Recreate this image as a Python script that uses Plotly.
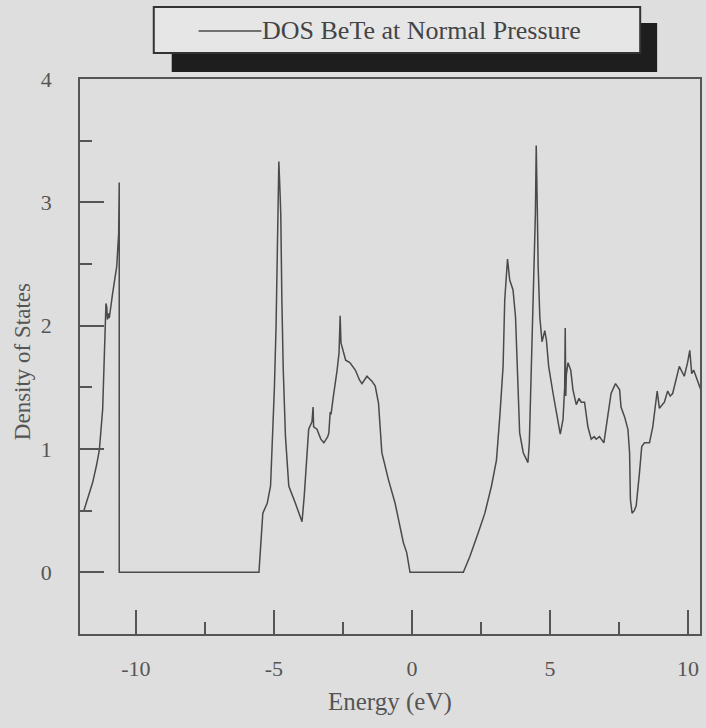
import plotly.graph_objects as go

# ---- data ----
energy = [-11.88, -11.70, -11.56, -11.42, -11.32, -11.20, -11.14, -11.10, -11.08, -11.05,
          -11.03, -10.98, -10.96, -10.84, -10.69, -10.62, -10.60, -10.60,
          -5.54, -5.40, -5.24, -5.12, -5.06, -4.98, -4.92, -4.87, -4.84, -4.82,
          -4.78, -4.75, -4.71, -4.66, -4.58, -4.46, -4.22, -3.98,
          -3.90, -3.83, -3.74, -3.62, -3.58, -3.56, -3.44, -3.30, -3.19, -3.05,
          -3.01, -2.96, -2.93, -2.85, -2.77, -2.71, -2.64, -2.60, -2.57, -2.50,
          -2.40, -2.25, -2.05, -1.90, -1.81, -1.63, -1.45, -1.33, -1.21, -1.09,
          -0.85, -0.61, -0.45, -0.31, -0.19, -0.07,
          1.86, 2.10, 2.40, 2.64, 2.88, 3.06, 3.18, 3.30, 3.36, 3.46,
          3.54, 3.66, 3.75, 3.84, 3.90, 4.03, 4.20, 4.25, 4.27, 4.33,
          4.42, 4.47, 4.50, 4.52, 4.54, 4.57, 4.63, 4.71, 4.81, 4.87,
          4.95, 5.11, 5.29, 5.37, 5.47, 5.53, 5.55, 5.57, 5.59, 5.65,
          5.75, 5.83, 5.95, 6.05, 6.13, 6.25, 6.37, 6.49, 6.60, 6.67,
          6.79, 6.95, 7.09, 7.21, 7.37, 7.52, 7.57, 7.70, 7.82, 7.88,
          7.91, 7.97, 8.05, 8.12, 8.24, 8.32, 8.42, 8.60, 8.72, 8.88,
          8.96, 9.14, 9.26, 9.35, 9.44, 9.56, 9.68, 9.86, 9.98, 10.06,
          10.13, 10.20, 10.34, 10.46]
dos = [0.50, 0.62, 0.73, 0.87, 0.99, 1.32, 1.67, 1.99, 2.18, 2.15,
       2.05, 2.10, 2.06, 2.26, 2.48, 2.75, 3.16, 0.00,
       0.00, 0.48, 0.56, 0.70, 1.00, 1.50, 2.00, 2.60, 3.00, 3.33,
       3.10, 2.90, 2.20, 1.64, 1.10, 0.70, 0.56, 0.41,
       0.62, 0.83, 1.16, 1.22, 1.34, 1.18, 1.16, 1.08, 1.05, 1.10,
       1.13, 1.30, 1.28, 1.42, 1.53, 1.64, 1.78, 2.08, 1.86, 1.80,
       1.72, 1.70, 1.64, 1.56, 1.53, 1.59, 1.55, 1.51, 1.37, 0.97,
       0.75, 0.56, 0.40, 0.24, 0.16, 0.00,
       0.00, 0.13, 0.32, 0.48, 0.70, 0.91, 1.26, 1.67, 2.21, 2.54,
       2.37, 2.29, 2.07, 1.53, 1.13, 0.97, 0.89, 1.05, 1.21, 1.67,
       2.48, 2.91, 3.46, 3.00, 2.93, 2.48, 2.07, 1.87, 1.96, 1.88,
       1.67, 1.45, 1.24, 1.12, 1.24, 1.50, 1.98, 1.43, 1.60, 1.70,
       1.64, 1.48, 1.36, 1.41, 1.38, 1.38, 1.18, 1.08, 1.10, 1.08,
       1.10, 1.05, 1.26, 1.45, 1.53, 1.48, 1.34, 1.26, 1.16, 0.97,
       0.59, 0.48, 0.50, 0.54, 0.81, 1.02, 1.05, 1.05, 1.18, 1.47,
       1.33, 1.38, 1.47, 1.43, 1.45, 1.57, 1.67, 1.59, 1.70, 1.80,
       1.61, 1.64, 1.56, 1.48]

x_major = [-10, -5, 0, 5, 10]
x_labels = ["-10", "-5", "0", "5", "10"]
x_minor = [-7.5, -2.5, 2.5, 7.5]
y_major = [0, 1, 2, 3, 4]
y_labels = ["0", "1", "2", "3", "4"]
y_minor = [0.5, 1.5, 2.5, 3.5]

series_name = "DOS BeTe at Normal Pressure"
x_title = "Energy (eV)"
y_title = "Density of States"

# ---- layout geometry (pixels) ----
W, H = 706, 728
L, R, T, B = 80, 4, 79, 94
PW, PH = W - L - R, H - T - B
FONT = "Liberation Serif, Times New Roman, serif"
INK = "#555555"
BG = "#dedede"


def px(x):
    return (x - L) / PW


def py(y):
    return (H - B - y) / PH


fig = go.Figure()
fig.add_trace(go.Scatter(x=energy, y=dos, mode="lines", name=series_name,
                         line=dict(color="#4a4a4a", width=1.5), showlegend=False))

axis_common = dict(showgrid=False, zeroline=False, showline=True, mirror=True,
                   linecolor=INK, linewidth=1.5, ticks="inside", ticklen=24,
                   tickwidth=1.5, tickcolor=INK,
                   tickfont=dict(family=FONT, size=22, color=INK))

fig.update_xaxes(range=[-12.02, 10.43], tickvals=x_major, ticktext=x_labels,
                 minor=dict(tickvals=x_minor, ticks="inside", ticklen=12,
                            tickwidth=1.5, tickcolor=INK),
                 ticklabelstandoff=14, **axis_common)
fig.update_yaxes(range=[-0.5, 4.0], tickvals=y_major, ticktext=y_labels,
                 minor=dict(tickvals=y_minor, ticks="inside", ticklen=12,
                            tickwidth=1.5, tickcolor=INK),
                 ticklabelstandoff=22, **axis_common)

shapes = [
    # legend shadow
    dict(type="rect", xref="paper", yref="paper",
         x0=px(172), x1=px(659), y0=py(72), y1=py(23),
         fillcolor="#1e1e1e", line=dict(width=0), layer="above"),
    # legend box
    dict(type="rect", xref="paper", yref="paper",
         x0=px(154), x1=px(642), y0=py(53), y1=py(7),
         fillcolor="#e6e6e6", line=dict(color="#333333", width=2), layer="above"),
    # legend line sample
    dict(type="line", xref="paper", yref="paper",
         x0=px(199), x1=px(262), y0=py(31), y1=py(31),
         line=dict(color="#4a4a4a", width=1.5), layer="above"),
]

annotations = [
    dict(text=series_name, xref="paper", yref="paper", x=px(261), y=py(30),
         xanchor="left", yanchor="middle", showarrow=False,
         font=dict(family=FONT, size=26, color="#444444")),
    dict(text=x_title, xref="paper", yref="paper", x=px(391), y=py(702),
         xanchor="center", yanchor="middle", showarrow=False,
         font=dict(family=FONT, size=25, color=INK)),
    dict(text=y_title, xref="paper", yref="paper", x=px(22), y=py(362),
         xanchor="center", yanchor="middle", showarrow=False, textangle=-90,
         font=dict(family=FONT, size=23, color=INK)),
]

fig.update_layout(width=W, height=H, margin=dict(l=L, r=R, t=T, b=B),
                  paper_bgcolor=BG, plot_bgcolor=BG,
                  shapes=shapes, annotations=annotations, showlegend=False)

fig.write_html("out.html")
